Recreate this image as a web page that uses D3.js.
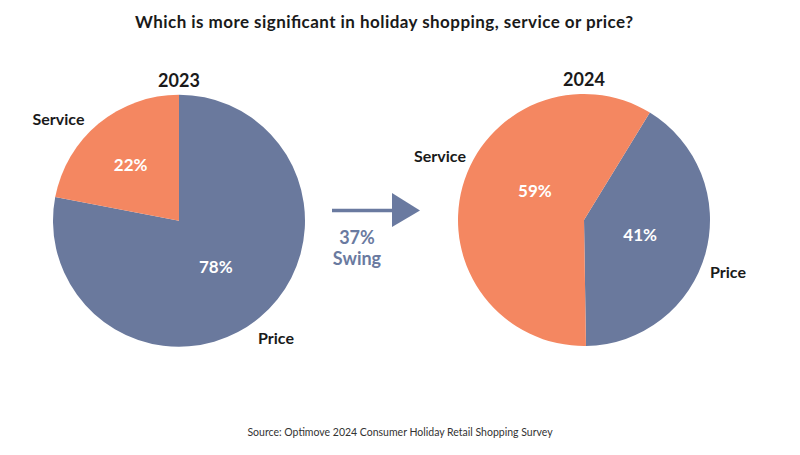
<!DOCTYPE html>
<html><head><meta charset="utf-8">
<script src="https://cdn.jsdelivr.net/npm/d3@7"></script>
<style>body{margin:0;background:#fff}svg{display:block}text{font-family:Lato,"Open Sans",sans-serif}</style>
</head><body>
<svg id="c" width="800" height="455"></svg>
<script>
const categories = ["Price", "Service"];
const years = ["2023", "2024"];
const values2023 = [78, 22];
const values2024 = [41, 59];
const swingLabel = ["37%", "Swing"];
const title = "Which is more significant in holiday shopping, service or price?";
const source = "Source: Optimove 2024 Consumer Holiday Retail Shopping Survey";

const colors = d3.scaleOrdinal().domain(categories).range(["#6a799d", "#f48761"]);
const svg = d3.select("#c");
const R = 126;

svg.append("text").attr("x", 384).attr("y", 28).attr("text-anchor", "middle")
  .attr("textLength", 498).attr("lengthAdjust", "spacing")
  .style("font-size", "17px").style("font-weight", 700).attr("fill", "#1a1a1a").text(title);

const pies = [
  {year: years[0], vals: values2023, cx: 179, cy: 220.7, start: 0,
   pctNudge: [[-1, 0.7], [-10.6, -10]],
   outer: [[276, 344], [58.5, 125]]},
  {year: years[1], vals: values2024, cx: 584, cy: 220, start: 31.5 * Math.PI / 180,
   pctNudge: [[-1, -1], [8, -13]],
   outer: [[728, 278], [440, 162]]}
];

pies.forEach(p => {
  const data = categories.map((c, i) => ({cat: c, v: p.vals[i]}));
  const pie = d3.pie().sort(null).value(d => d.v).startAngle(p.start).endAngle(p.start + 2 * Math.PI);
  const arc = d3.arc().innerRadius(0).outerRadius(R);
  const lab = d3.arc().innerRadius(R * 0.47).outerRadius(R * 0.47);
  const g = svg.append("g").attr("transform", `translate(${p.cx},${p.cy})`);
  const arcs = pie(data);
  g.selectAll("path").data(arcs).join("path").attr("d", arc).attr("fill", d => colors(d.data.cat));
  g.selectAll("text.pct").data(arcs).join("text").attr("class", "pct")
    .attr("transform", (d, i) => { const c = lab.centroid(d); return `translate(${c[0] + p.pctNudge[i][0]},${c[1] + p.pctNudge[i][1]})`; })
    .attr("text-anchor", "middle").attr("dy", "0.35em")
    .style("font-size", "17px").style("font-weight", 700).attr("fill", "#fff")
    .text(d => d.data.v + "%");
  svg.append("text").attr("x", p.cx).attr("y", p.cy - R - 8).attr("text-anchor", "middle")
    .style("font-size", "18px").style("font-weight", 700).attr("fill", "#1a1a1a").text(p.year);
  categories.forEach((c, i) => {
    svg.append("text").attr("x", p.outer[i][0]).attr("y", p.outer[i][1]).attr("text-anchor", "middle")
      .style("font-size", "16px").style("font-weight", 700).attr("fill", "#1a1a1a").text(c);
  });
});

// arrow
const ac = "#6a7aa0";
svg.append("line").attr("x1", 332).attr("x2", 394).attr("y1", 210.5).attr("y2", 210.5)
  .attr("stroke", ac).attr("stroke-width", 3.5);
svg.append("path").attr("d", "M392,193 L420,210.5 L392,227 Z").attr("fill", ac);
swingLabel.forEach((t, i) => {
  svg.append("text").attr("x", 357).attr("y", 244 + i * 21).attr("text-anchor", "middle")
    .style("font-size", "18px").style("font-weight", 700).attr("fill", ac).text(t);
});

svg.append("text").attr("x", 400).attr("y", 436).attr("text-anchor", "middle")
  .style("font-size", "10.5px").attr("fill", "#333").text(source);
</script>
</body></html>
